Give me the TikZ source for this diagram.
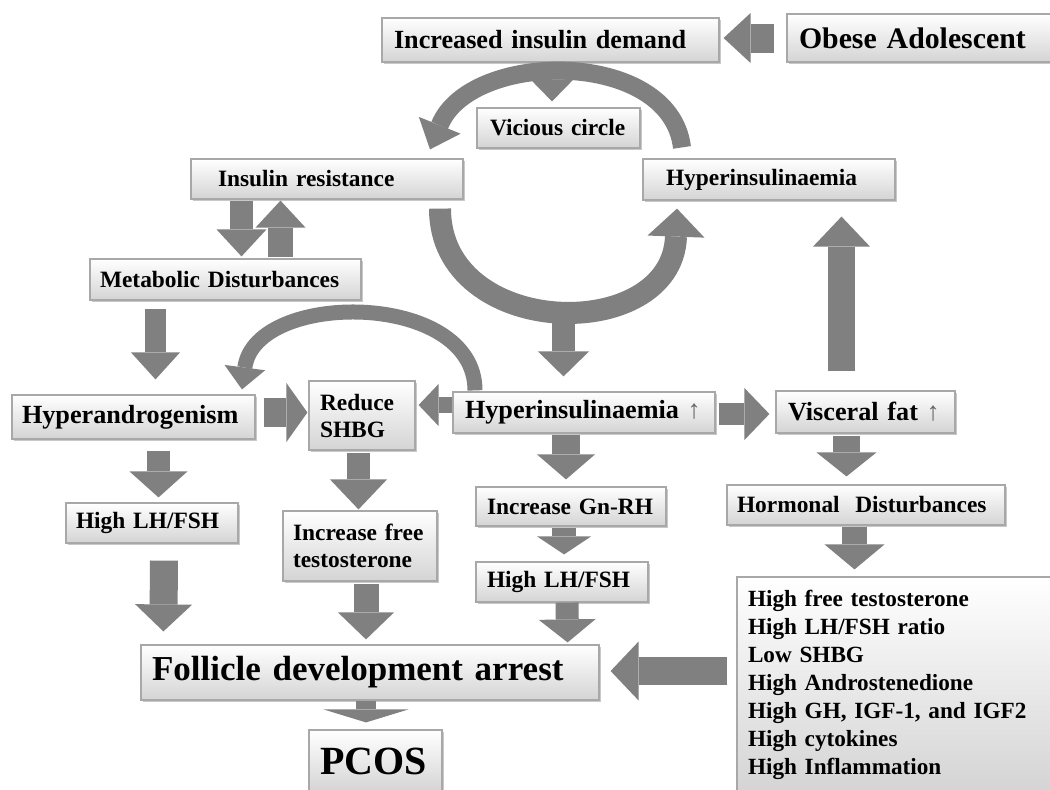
\documentclass[tikz,border=0pt]{standalone}
\usepackage{fontspec}
\setmainfont{Liberation Serif}
\usetikzlibrary{arrows.meta,calc,shadows}
\definecolor{arrowgray}{RGB}{128,128,128}
\definecolor{boxedge}{RGB}{168,168,168}
\definecolor{boxbot}{RGB}{212,212,212}
\newcommand\fsA{\fontsize{11.7}{13.5}\selectfont}
\newcommand\fsB{\fontsize{13.1}{15}\selectfont}
\newcommand\fsO{\fontsize{14.9}{17}\selectfont}
\newcommand\fsL{\fontsize{11.6}{14}\selectfont}
\newcommand\fsF{\fontsize{17.5}{20}\selectfont}
\newcommand\fsP{\fontsize{20}{23}\selectfont}
\newcommand\uparr{{\mdseries\color{black!60}↑}}
\tikzset{
  box/.style={draw=boxedge, line width=0.6pt, top color=white, bottom color=boxbot,
    inner ysep=0pt, align=left, font=\bfseries\fsA,
    drop shadow={shadow xshift=0.9pt, shadow yshift=-0.9pt, opacity=0.3, fill=black!70}},
  fat/.style n args={3}{draw=arrowgray, line width=#1,
    -{Triangle[width=#2,length=#3,line width=0pt 0 0]}},
}
% \bx[opts]{name}{x1}{y1}{x2}{y2}{left pad}{text}
\newcommand\bx[8][]{%
  \pgfmathsetmacro\bxh{(#6-#4)/2}%
  \pgfmathsetmacro\bxp{#7/2}%
  \pgfmathsetmacro\bxt{(#5-#3)/2-2*\bxp}%
  \node[box, inner xsep=\bxp pt, text width=\bxt pt, minimum height=\bxh pt, #1]
    (#2) at ({(#3+#5)/2},{(#4+#6)/2}) {#8};}
\begin{document}
\begin{tikzpicture}[x=0.5pt, y=-0.5pt]
\fill[white] (0,0) rectangle (1050,789);
\useasboundingbox (0,0) rectangle (1050,789);

% boxes
\bx[font=\bfseries\fsB]{dem}{382}{18}{719}{62}{12}{\mbox{Increased insulin demand}}
\bx[font=\bfseries\fsO]{obese}{787}{14}{1052}{62}{12}{\mbox{Obese Adolescent}}
\bx{vic}{477}{108}{640}{148}{13}{\mbox{Vicious circle}}
\bx{ir}{191}{159}{463}{199}{27}{\mbox{Insulin resistance}}
\bx{hyp1}{643}{159}{895}{200}{23}{\mbox{Hyperinsulinaemia}}
\bx{met}{90}{259}{361}{300}{10}{\mbox{Metabolic Disturbances}}
\bx[font=\bfseries\fsB]{hyperand}{12}{395}{255}{439}{10}{\mbox{Hyperandrogenism}}
\bx{shbg}{309}{381}{415}{450}{11}{Reduce\\SHBG}
\bx[font=\bfseries\fsB]{hyp2}{453}{392}{715}{433}{12}{\mbox{Hyperinsulinaemia \uparr}}
\bx[font=\bfseries\fsB]{visc}{776}{391}{955}{433}{12}{\mbox{Visceral fat \uparr}}
\bx{lh1}{66}{503}{238}{543}{10}{\mbox{High LH/FSH}}
\bx{ift}{283}{511}{437}{581}{10}{Increase free\\testosterone}
\bx{gnrh}{476}{487}{666}{526}{11}{\mbox{Increase Gn-RH}}
\bx{lh2}{476}{562}{648}{602}{11}{\mbox{High LH/FSH}}
\bx{hormonal}{727}{485}{1005}{525}{10}{\mbox{Hormonal\ \ Disturbances}}
\bx[font=\bfseries\fsL]{list}{737}{577}{1052}{792}{11}{High free testosterone\\High LH/FSH ratio\\Low SHBG\\High Androstenedione\\High GH, IGF-1, and IGF2\\High cytokines\\High Inflammation}
\bx[font=\bfseries\fsF]{fol}{141}{645}{599}{700}{11}{\mbox{Follicle development arrest}}
\bx[font=\bfseries\fsP]{pcos}{309}{730}{442}{792}{11}{\mbox{PCOS}}

% curved arrows
\draw[fat={9pt}{22.5pt}{13pt}] ($(hyp1.north)+(-87,-11)$) .. controls (670,48) and (470,50) .. ($(ir.north)+(103,-9)$);
\draw[fat={11pt}{28.5pt}{14pt}] ($(ir.south)+(113,9)$) .. controls (440,340) and (672,345) .. ($(hyp1.south)+(-92,8)$);
\draw[fat={7.5pt}{20.5pt}{11pt}] ($(hyp2.north)+(-109,-1)$) .. controls (475,290) and (255,290) .. ($(hyperand.north)+(108.5,-5)$);
\coordinate (arcbot) at (563.5,318);

% straight block arrows
\draw[fat={14.5pt}{25pt}{13.5pt}] ($(obese.west)+(-12,0)$) -- ($(dem.east)+(4,-2)$);
\draw[fat={9.5pt}{21.5pt}{11pt}] ($(dem.south)+(1.5,0)$) -- ($(vic.north)+(-6.5,-6)$);
\draw[fat={11.5pt}{25pt}{13.5pt}] ($(ir.south)+(-85.5,1)$) -- ($(met.north)+(16,-2)$);
\draw[fat={12.5pt}{25pt}{13.5pt}] ($(met.north)+(55,-1)$) -- ($(ir.south)+(-46.5,1)$);
\draw[fat={10.5pt}{24.5pt}{13.5pt}] ($(met.south)+(-70,8)$) -- ($(hyperand.north)+(22,-15)$);
\draw[fat={11.5pt}{25.5pt}{12.5pt}] (arcbot) -- ($(hyp2.north)+(-20.5,-15)$);
\draw[fat={13.5pt}{28.5pt}{15pt}] ($(visc.north)+(-24,-19)$) -- ($(hyp1.south)+(72.5,16)$);
\draw[fat={14.5pt}{29.5pt}{10.5pt}] ($(hyperand.east)+(8,-4.5)$) -- ($(shbg.west)+(-1,-3)$);
\draw[fat={8pt}{21pt}{10pt}] ($(hyp2.west)+(0,-7.5)$) -- ($(shbg.east)+(3,-10.5)$);
\draw[fat={11pt}{26pt}{12.5pt}] ($(hyp2.east)+(3,1.5)$) -- ($(visc.west)+(-6,2)$);
\draw[fat={11.5pt}{29pt}{13pt}] ($(hyperand.south)+(25,11)$) -- ($(lh1.north)+(6.5,-5)$);
\draw[fat={11.5pt}{28.5pt}{15pt}] ($(shbg.south)+(-3.5,2)$) -- ($(ift.north)+(-1.5,-1)$);
\draw[fat={14pt}{29pt}{12.5pt}] ($(hyp2.south)+(-18,1)$) -- ($(gnrh.north)+(-5,-7)$);
\draw[fat={13.5pt}{30pt}{12pt}] ($(visc.south)+(-19,2)$) -- ($(hormonal.north)+(-19.5,-8)$);
\draw[fat={12pt}{27pt}{9pt}] ($(gnrh.south)+(-7,1)$) -- ($(lh2.north)+(2,-7)$);
\draw[fat={12.5pt}{30pt}{12.5pt}] ($(hormonal.south)+(-11.5,1)$) -- ($(list.north)+(-40,-7)$);
\draw[fat={14pt}{29.5pt}{14pt}] ($(list.west)+(-9,-13.5)$) -- ($(fol.east)+(11,-1.5)$);
\draw[fat={14pt}{28.5pt}{13.5pt}] ($(lh1.south)+(12,17)$) -- ($(fol.north west)+(23,-13)$);
\draw[fat={12.5pt}{28pt}{13.5pt}] ($(ift.south)+(6,2)$) -- ($(fol.north)+(-4,-5)$);
\draw[fat={11.5pt}{28.5pt}{11.5pt}] ($(lh2.south)+(5,0)$) -- ($(fol.north east)+(-32,-2)$);
\draw[fat={10pt}{42.5pt}{6.5pt}] ($(fol.south)+(-4,0)$) -- ($(pcos.north)+(-9.5,-7)$);
\end{tikzpicture}
\end{document}
